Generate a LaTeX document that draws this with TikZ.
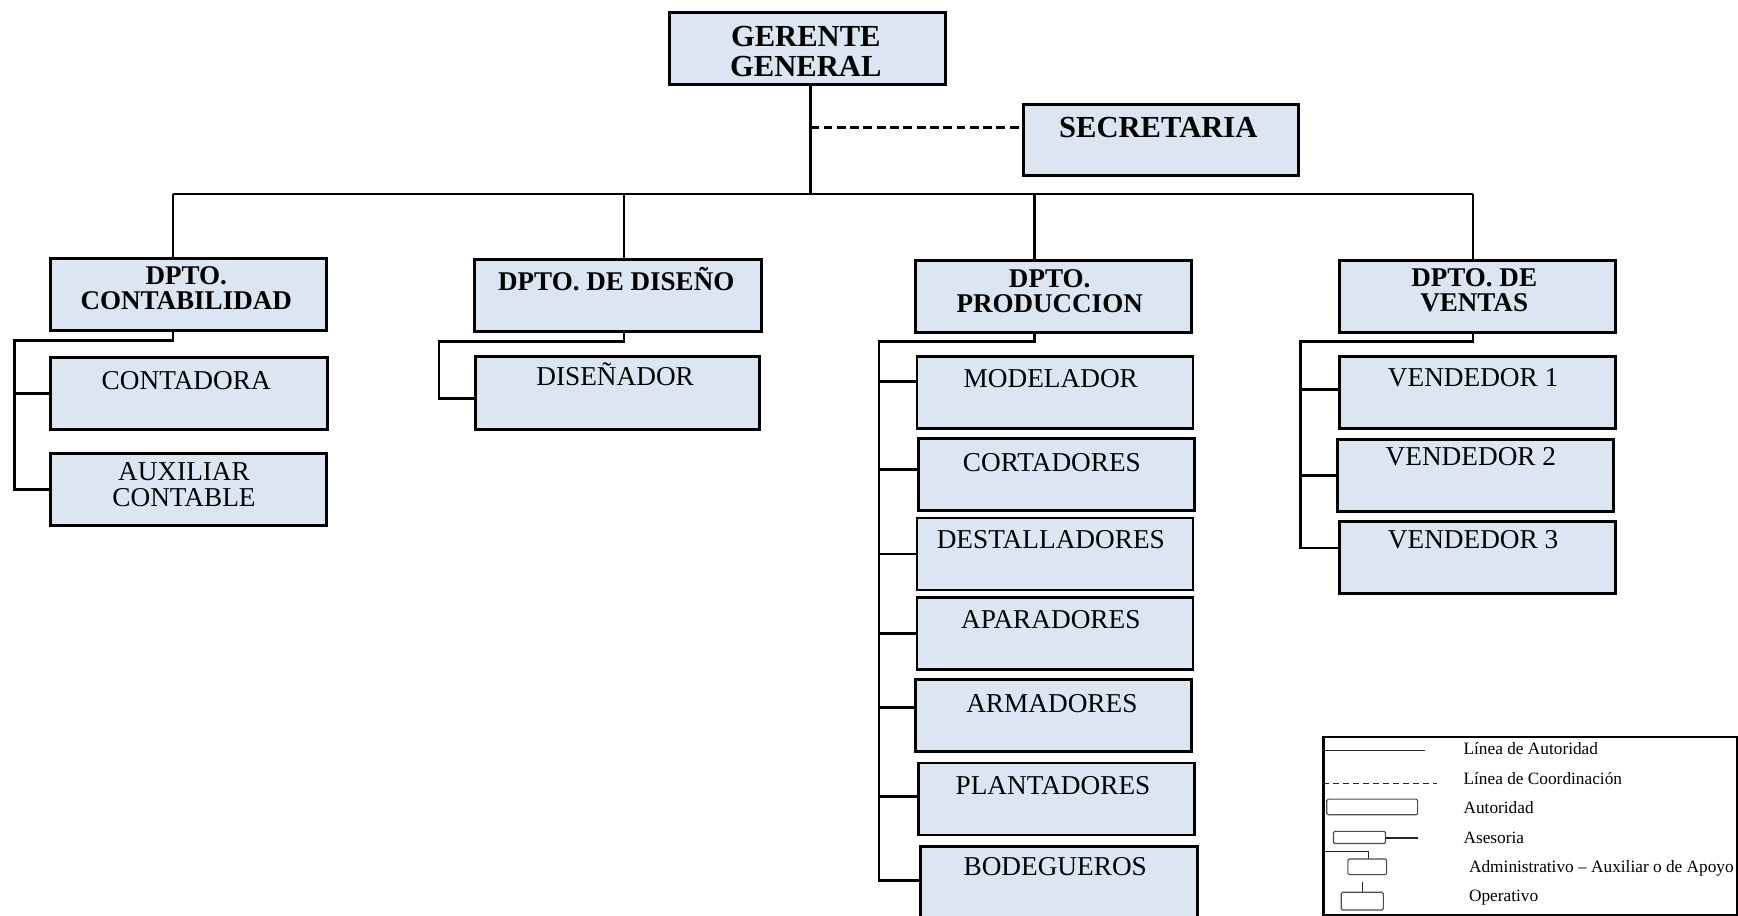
\documentclass[tikz,border=0pt]{standalone}
\usepackage{fontspec}
\setmainfont{Liberation Serif}
\definecolor{boxfill}{HTML}{DCE6F2}

% one unit = one pixel of the layout grid, y grows downwards
\tikzset{
  orgbox/.style={draw=black, fill=boxfill, line width=1.3pt, inner sep=0pt, anchor=north west},
  conn/.style={line width=1.25pt, line join=miter},
  coordline/.style={line width=1.2pt, dash pattern=on 4pt off 2pt},
  bigtxt/.style={font=\fontsize{13.8}{13.5}\selectfont\bfseries, align=center, inner sep=0pt},
  headtxt/.style={font=\fontsize{12.2}{11.4}\selectfont\bfseries, align=center, inner sep=0pt},
  roletxt/.style={font=\fontsize{12.3}{11.5}\selectfont, align=center, inner sep=0pt},
  legframe/.style={draw=black, fill=white, line width=1.1pt, inner sep=0pt, anchor=north west},
  legtxt/.style={font=\fontsize{7.8}{9}\selectfont, anchor=base west, inner sep=0pt},
  legline/.style={line width=0.5pt, draw=black!85},
  legbox/.style={line width=0.5pt, draw=black!70, rounded corners=0.6pt},
}

% \placebox{name}{x1}{y1}{x2}{y2}: box from top-left to bottom-right corner
\newcommand\placebox[6][orgbox]{%
  \node[#1, minimum width={(#5-#3)*0.5pt}, minimum height={(#6-#4)*0.5pt}] (#2) at (#3,#4) {};}

\begin{document}
\begin{tikzpicture}[x=0.5pt, y=-0.5pt]
\useasboundingbox (0,0) rectangle (1568,826);

% ---- boxes ----
\placebox{gg}{603}{10}{852}{75}
\placebox{sec}{922}{93}{1170}{157}
\placebox{dcont}{44}{232}{293}{297}
\placebox{ddis}{427}{233}{686}{298}
\placebox{dprod}{825}{234}{1074}{299}
\placebox{dvent}{1207}{234}{1456}{299}
\placebox{conta}{44}{321}{294}{386}
\placebox{aux}{44}{408}{293}{473}
\placebox{disen}{428}{320}{684}{386}
\placebox{model}{826}{320}{1075}{385}
\placebox{cort}{827}{394}{1076}{459}
\placebox{dest}{826}{466}{1075}{531}
\placebox{apar}{826}{538}{1075}{603}
\placebox{arma}{825}{612}{1074}{677}
\placebox{plan}{827}{687}{1076}{752}
\placebox{bode}{829}{762}{1079}{828}
\placebox{vend1}{1207}{320}{1456}{385}
\placebox{vend2}{1205}{395}{1454}{460}
\placebox{vend3}{1207}{469}{1456}{534}

% ---- labels ----
\node[bigtxt, anchor=north] (gg-t) at (727,23) {GERENTE\\GENERAL};
\node[bigtxt, anchor=base] (sec-t) at (1045,124) {SECRETARIA};
\node[headtxt, anchor=north] (dcont-t) at (168,240) {DPTO.\\CONTABILIDAD};
\node[headtxt, anchor=base] (ddis-t) at (556,262) {DPTO. DE DISEÑO};
\node[headtxt, anchor=north] (dprod-t) at (947,243) {DPTO.\\PRODUCCION};
\node[headtxt, anchor=north] (dvent-t) at (1330,242) {DPTO. DE\\VENTAS};

\node[roletxt, anchor=base] (conta-t) at (168,351) {CONTADORA};
\node[roletxt, anchor=north] (aux-t) at (166,417) {AUXILIAR\\CONTABLE};
\node[roletxt, anchor=base] (disen-t) at (555,348) {DISEÑADOR};
\node[roletxt, anchor=base] (model-t) at (948,350) {MODELADOR};
\node[roletxt, anchor=base] (cort-t) at (949,425) {CORTADORES};
\node[roletxt, anchor=base] (dest-t) at (948,495) {DESTALLADORES};
\node[roletxt, anchor=base] (apar-t) at (948,567) {APARADORES};
\node[roletxt, anchor=base] (arma-t) at (949,643) {ARMADORES};
\node[roletxt, anchor=base] (plan-t) at (950,717) {PLANTADORES};
\node[roletxt, anchor=base] (bode-t) at (952,790) {BODEGUEROS};
\node[roletxt, anchor=base] (vend1-t) at (1329,349) {VENDEDOR 1};
\node[roletxt, anchor=base] (vend2-t) at (1327,420) {VENDEDOR 2};
\node[roletxt, anchor=base] (vend3-t) at (1329,495) {VENDEDOR 3};

% ---- authority lines ----
\coordinate (gx) at (731,0);
\coordinate (busy) at (0,175);
\coordinate (dashy) at (0,115);
\coordinate (jc) at (156,175);
\coordinate (jd) at (563,175);
\coordinate (jp) at (933,175);
\coordinate (jv) at (1329,175);

\draw[conn] (gx |- gg.south) -- (gx |- busy);
\draw[conn] (jc) -- (jv);
\draw[conn] (jc) -- (jc |- dcont.north);
\draw[conn] (jd) -- (jd |- ddis.north);
\draw[conn] (jp) -- (jp |- dprod.north);
\draw[conn] (jv) -- (jv |- dvent.north);

% coordination line to the secretary
\draw[coordline] (gx |- dashy) -- (sec.west |- dashy);

% accounting
\coordinate (sc) at (13,307);
\draw[conn] (jc |- dcont.south) |- (sc) |- (aux.west);
\draw[conn] (sc |- conta.west) -- (conta.west);

% design
\coordinate (sd) at (396,308);
\coordinate (disen-in) at ([yshift=-2.5pt]disen.west);
\draw[conn] (jd |- ddis.south) |- (sd) |- (disen-in);

% production
\coordinate (sp) at (793,308);
\coordinate (model-in) at ([yshift=4.75pt]model.west);
\coordinate (cort-in) at ([yshift=2.25pt]cort.west);
\coordinate (arma-in) at ([yshift=3.75pt]arma.west);
\coordinate (plan-in) at ([yshift=1.25pt]plan.west);
\coordinate (bode-in) at ([yshift=1pt]bode.west);
\draw[conn] (jp |- dprod.south) |- (sp) |- (bode-in);
\draw[conn] (model-in -| sp) -- (model-in);
\draw[conn] (cort-in -| sp) -- (cort-in);
\draw[conn] (dest.west -| sp) -- (dest.west);
\draw[conn] (apar.west -| sp) -- (apar.west);
\draw[conn] (arma-in -| sp) -- (arma-in);
\draw[conn] (plan-in -| sp) -- (plan-in);

% sales
\coordinate (sv) at (1173,308);
\coordinate (vend1-in) at ([yshift=1.25pt]vend1.west);
\coordinate (vend3-in) at ([yshift=4.25pt]vend3.west);
\draw[conn] (jv |- dvent.south) |- (sv) |- (vend3-in);
\draw[conn] (vend1-in -| sv) -- (vend1-in);
\draw[conn] (vend2.west -| sv) -- (vend2.west);

% ---- legend ----
\placebox[legframe]{leg}{1193}{664}{1566}{825}
\draw[legline] (1194,677) -- (1286,677);
\draw[legline, dash pattern=on 2.5pt off 2pt] (1194,707) -- (1296,707);
\draw[legbox] (1197,721) rectangle (1279,735);
\draw[legbox] (1203,750) rectangle (1250,761);
\draw[legline] (1250,756) -- (1279,756);
\draw[legline] (1195,768) -- (1235,768) -- (1235,775);
\draw[legbox] (1216,775) rectangle (1251,789);
\draw[legline] (1229,796) -- (1229,805);
\draw[legbox] (1210,805) rectangle (1248,821);

\node[legtxt] (l1) at (1320,681) {Línea de Autoridad};
\node[legtxt] (l2) at (1320,708) {Línea de Coordinación};
\node[legtxt] (l3) at (1320,734) {Autoridad};
\node[legtxt] (l4) at (1320,761) {Asesoria};
\node[legtxt] (l5) at (1325,787) {Administrativo – Auxiliar o de Apoyo};
\node[legtxt] (l6) at (1325,813) {Operativo};
\end{tikzpicture}
\end{document}
